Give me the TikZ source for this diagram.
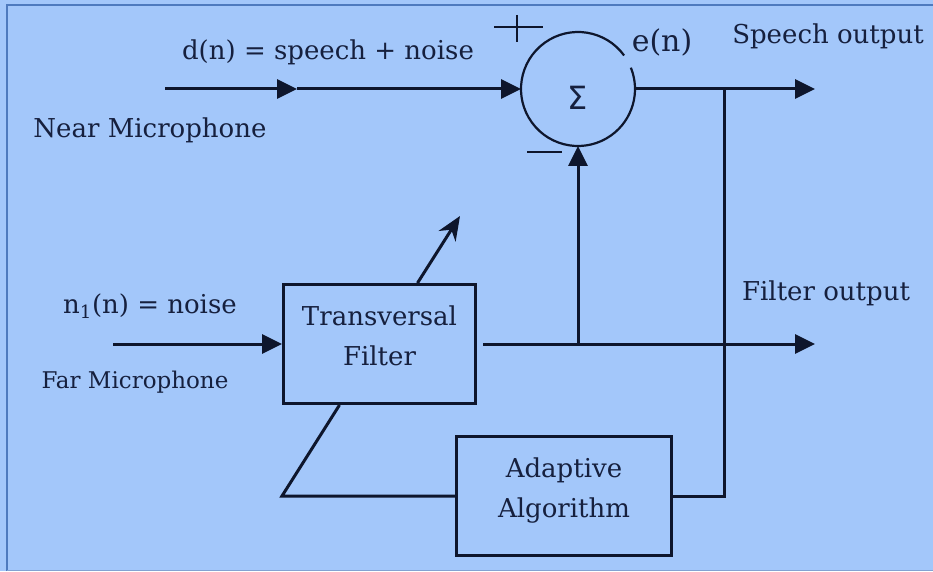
\documentclass[tikz,border=0pt]{standalone}
\usepackage{fontspec}
\setmainfont{DejaVu Serif}
\newfontfamily\sigmaface{DejaVu Sans}
\usepackage{tikz}
\usetikzlibrary{
        arrows.meta,
        calc
    }
\definecolor{bgblue}{RGB}{163,199,250}
\definecolor{rimblue}{RGB}{78,122,190}
\definecolor{ink}{RGB}{14,22,44}
\definecolor{txt}{RGB}{22,32,62}
\newcommand{\lblfont}{\fontsize{26}{40}\selectfont}
\newcommand{\farfont}{\fontsize{23}{30}\selectfont}
\newcommand{\errfont}{\fontsize{30}{36}\selectfont}
\newcommand{\sigfont}{\sigmaface\fontsize{32}{36}\selectfont}
\newcommand{\dn}{\rule[-16pt]{0pt}{16pt}}
\tikzset{>={Triangle[length=20pt,width=19pt]}}
\tikzset{
    lbl/.style={text=txt,font=\lblfont,inner sep=0pt},
    sig/.style={draw=ink,line width=3pt},
    block/.style={draw=ink,line width=3pt,minimum height=119pt,align=center,
        text=txt,font=\lblfont,inner sep=0pt}
}

\begin{document}
\begin{tikzpicture}[x=1pt,y=1pt]
    \useasboundingbox (0,0) rectangle (933,571);
    \fill[bgblue] (0,0) rectangle (933,571);
    \draw[rimblue,line width=2pt] (7,0) -- (7,566) -- (933,566);
    \draw[rimblue!70,line width=1pt] (7,1) -- (933,1);

    % summing point
    \node[circle,minimum size=114pt,inner sep=0pt,outer sep=0pt] (sum) at (578,482) {};
    \draw[ink,line width=2.2pt] (sum.36) arc[start angle=36,end angle=382,radius=57pt];
    \node[lbl,font=\sigfont] (sigma) at ([yshift=-9pt]sum.center) {Σ};
    \draw[ink,line width=2.5pt] (494,544) -- (543,544) (517,556) -- (517,529);
    \draw[ink,line width=2.5pt] (527,419) -- (562,419);

    % blocks
    \node[block,minimum width=192pt] (filt) at (379.5,227) {Transversal\\Filter\dn};
    \node[block,minimum width=215pt] (adapt) at (564,75) {Adaptive\\Algorithm\dn};

    \coordinate (nearin) at (165,482);
    \coordinate (nearmid) at (297,482);
    \coordinate (tap) at (724,482);
    \coordinate (spout) at (815,482);
    \coordinate (farin) at (113,227);
    \coordinate (fout) at (815,227);
    \coordinate (tune) at (460,355);
    \coordinate (corner) at (282,75);

    \draw[sig,->] (nearin) -- (nearmid);
    \draw[sig,->] (nearmid) -- (sum.west);
    \draw[sig,->] (sum.east) -- (spout);
    \draw[sig] (tap) |- (adapt.east);
    \draw[sig,->] (farin) -- (filt.west);
    \draw[sig,->,shorten <=6pt] (filt.east) -- (fout);
    \draw[sig,->] (sum.south |- fout) -- (sum.south);
    \draw[sig,-{Stealth[length=24pt,width=20pt]}] ([xshift=38pt]filt.north) -- (tune);
    \draw[sig] ([xshift=-40pt]filt.south) -- (corner) -- (adapt.west);

    % labels
    \node[lbl] (dn) at (328,519) {d(n) = speech + noise};
    \node[lbl] (near) at (150,441) {Near Microphone};
    \node[lbl,font=\errfont] (en) at (662,529) {e(n)};
    \node[lbl] (spl) at (828,535) {Speech output};
    \node[lbl] (n1) at (150,265) {n\textsubscript{1}(n) = noise};
    \node[lbl,font=\farfont] (far) at (135,189) {Far Microphone};
    \node[lbl] (fol) at (826,278) {Filter output};
\end{tikzpicture}
\end{document}
